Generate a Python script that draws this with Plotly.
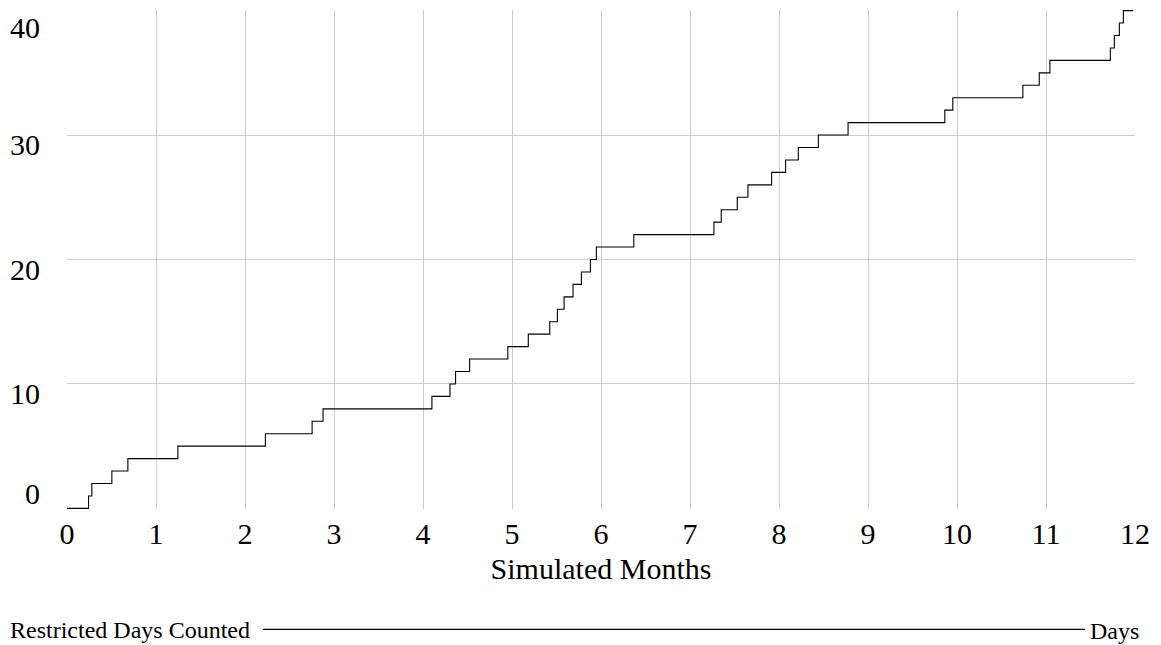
import plotly.graph_objects as go

# Step positions (simulated months) and cumulative restricted days
months = [0, 0.242, 0.279, 0.504, 0.684, 1.246, 2.229, 2.754, 2.877, 4.100,
          4.303, 4.366, 4.524, 4.953, 5.183, 5.424, 5.510, 5.585, 5.686, 5.780,
          5.881, 5.948, 6.369, 7.269, 7.351, 7.531, 7.651, 7.917, 8.074, 8.217,
          8.442, 8.776, 9.863, 9.953, 10.740, 10.924, 11.044, 11.723, 11.768,
          11.824, 11.869, 11.980]
days = [0, 1, 2, 3, 4, 5, 6, 7, 8, 9,
        10, 11, 12, 13, 14, 15, 16, 17, 18, 19,
        20, 21, 22, 23, 24, 25, 26, 27, 28, 29,
        30, 31, 32, 33, 34, 35, 36, 37, 38,
        39, 40, 40]

x_ticks = list(range(0, 13))
y_ticks = [0, 10, 20, 30, 40]
y_tick_labels = ["0", "10", "20", "30", "40"]

series_name = "Days"
legend_title = "Restricted Days Counted"
x_title = "Simulated Months"

FONT = "Liberation Serif, Times New Roman, serif"

fig = go.Figure()
fig.add_trace(go.Scatter(
    x=months, y=days, mode="lines", name=series_name,
    line=dict(shape="hv", color="#000000", width=1.1),
    showlegend=True,
))

fig.update_layout(
    width=1161, height=645,
    paper_bgcolor="white", plot_bgcolor="white",
    margin=dict(l=59, r=34, t=2, b=144),
    font=dict(family=FONT, color="#000000", size=30),
    xaxis=dict(
        range=[0, 12], tickmode="array", tickvals=x_ticks,
        ticktext=[str(v) for v in x_ticks],
        showgrid=True, gridcolor="#cccccc", gridwidth=1,
        zeroline=False, showline=False, ticks="",
        ticklabelstandoff=4,
        tickfont=dict(size=30, family=FONT),
        title=dict(text=x_title, font=dict(size=30, family=FONT), standoff=8),
    ),
    yaxis=dict(
        range=[-0.05, 40.05], tickmode="array", tickvals=[10, 20, 30],
        showticklabels=False,
        showgrid=True, gridcolor="#cccccc", gridwidth=1,
        zeroline=False, showline=False, ticks="",
    ),
    showlegend=True,
    legend=dict(
        orientation="h", xref="container", yref="container",
        x=0.0, xanchor="left", y=0.036, yanchor="middle",
        itemwidth=822,
        title=dict(text=legend_title, side="left", font=dict(size=24, family=FONT)),
        font=dict(size=24, family=FONT),
        bgcolor="rgba(0,0,0,0)",
    ),
)

# y tick labels placed just below their gridlines (edge labels kept inside)
for v, t in zip(y_ticks, y_tick_labels):
    if v == 0:
        anchor, shift = "bottom", -4
    elif v == 40:
        anchor, shift = "top", 2
    else:
        anchor, shift = "top", 9
    fig.add_annotation(
        x=0, xref="paper", xanchor="right", xshift=-25,
        y=v, yref="y", yanchor=anchor, yshift=shift,
        text=t, showarrow=False, font=dict(size=30, family=FONT),
    )

fig.write_html("out.html")
